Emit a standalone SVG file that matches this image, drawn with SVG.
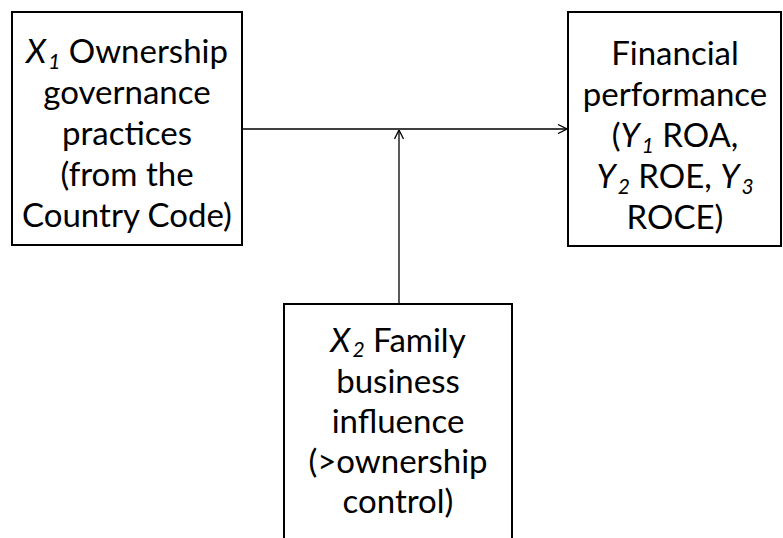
<svg xmlns="http://www.w3.org/2000/svg" width="783" height="538" viewBox="0 0 783 538">
<style>
.box{fill:#fff;stroke:#000;stroke-width:2}
.t{font-family:Lato,"Liberation Sans",sans-serif;font-size:33px;fill:#000;text-anchor:middle}
.i{font-style:italic}
.s{font-size:21px;font-style:italic}
.c{fill:none;stroke:#000;stroke-width:1.3}
</style>
<defs>
<marker id="ah" viewBox="0 0 10 10" refX="10" refY="5" markerWidth="10" markerHeight="10" markerUnits="userSpaceOnUse" orient="auto">
<path d="M1,0.5 L10,5 L1,9.5" fill="none" stroke="#000" stroke-width="1.3"/>
</marker>
</defs>
<rect width="783" height="538" fill="#fff"/>
<g id="connectors">
<line class="c" x1="242" y1="129" x2="567" y2="129" marker-end="url(#ah)"/>
<line class="c" x1="399" y1="304" x2="399" y2="130" marker-end="url(#ah)"/>
</g>
<g id="x1">
<rect class="box" x="12" y="12" width="230" height="233"/>
<text class="t"><tspan x="127" y="63"><tspan class="i">X</tspan><tspan class="s" dx="2" dy="6">1</tspan><tspan dy="-6"> Ownership</tspan></tspan><tspan x="127" y="104">governance</tspan><tspan x="127" y="145">practices</tspan><tspan x="127" y="186">(from the</tspan><tspan x="127" y="227">Country Code)</tspan></text>
</g>
<g id="y">
<rect class="box" x="568" y="12" width="213" height="234"/>
<text class="t"><tspan x="675" y="65">Financial</tspan><tspan x="675" y="106">performance</tspan><tspan x="675" y="147">(<tspan class="i">Y</tspan><tspan class="s" dx="2" dy="6">1</tspan><tspan dy="-6"> ROA,</tspan></tspan><tspan x="675" y="188"><tspan class="i">Y</tspan><tspan class="s" dx="2" dy="6">2</tspan><tspan dy="-6"> ROE, </tspan><tspan class="i">Y</tspan><tspan class="s" dx="2" dy="6">3</tspan></tspan><tspan x="675" y="229">ROCE)</tspan></text>
</g>
<g id="x2">
<rect class="box" x="284" y="304" width="228" height="250"/>
<text class="t"><tspan x="398" y="352"><tspan class="i">X</tspan><tspan class="s" dx="2" dy="5">2</tspan><tspan dy="-5"> Family</tspan></tspan><tspan x="398" y="393">business</tspan><tspan x="398" y="433">influence</tspan><tspan x="398" y="473">(&gt;ownership</tspan><tspan x="398" y="513">control)</tspan></text>
</g>
</svg>
